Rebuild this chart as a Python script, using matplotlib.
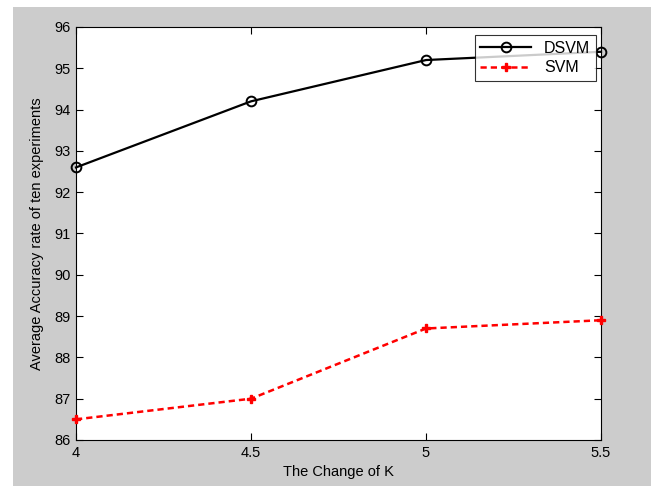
import matplotlib
matplotlib.use("Agg")
import matplotlib.pyplot as plt
from matplotlib.patches import Rectangle

k_values = [4, 4.5, 5, 5.5]
dsvm = [92.6, 94.2, 95.2, 95.4]
svm = [86.5, 87.0, 88.7, 88.9]
xticks = [4, 4.5, 5, 5.5]
xtick_labels = ["4", "4.5", "5", "5.5"]
yticks = list(range(86, 97))

plt.rcParams['font.family'] = ['Liberation Sans', 'DejaVu Sans']

fig = plt.figure(figsize=(6.51, 4.86), dpi=100, facecolor='white')
fig.patches.append(Rectangle((13/651, 0), 1 - 13/651, 1 - 7/486, transform=fig.transFigure,
                             facecolor='#cccccc', edgecolor='none', zorder=-10))
ax = fig.add_axes([76/651, 46/486, (601-76)/651, (440-27)/486])
ax.set_facecolor('white')

ax.plot(k_values, dsvm, color='black', linewidth=1.6, marker='o', markersize=7,
        markerfacecolor='none', markeredgecolor='black', markeredgewidth=1.4,
        label='DSVM', clip_on=False, zorder=5)
ax.plot(k_values, svm, color='red', linewidth=1.8, linestyle='--', dashes=(2.5, 1.6), marker='P',
        markersize=6, markerfacecolor='red', markeredgecolor='red',
        label='SVM', clip_on=False, zorder=5)

ax.set_xlim(4, 5.5)
ax.set_ylim(86, 96)
ax.set_xticks(xticks)
ax.set_xticklabels(xtick_labels)
ax.set_yticks(yticks)
ax.tick_params(direction='in', top=True, right=True, length=5, width=0.8,
               labelsize=10.5, colors='black', pad=4)
for s in ax.spines.values():
    s.set_color('black')
    s.set_linewidth(0.8)

ax.set_xlabel('The Change of K', fontsize=10.5, labelpad=4)
ax.set_ylabel('Average Accuracy rate of ten experiments', fontsize=10.5, labelpad=7)

leg = fig.legend(loc='upper right', bbox_to_anchor=(596/651, 1 - 35/486), fontsize=11.5,
                 frameon=True, fancybox=False, edgecolor='black', borderpad=0.35,
                 handlelength=3.2, labelspacing=0.3, borderaxespad=0)
leg.get_frame().set_linewidth(0.8)
leg.set_zorder(10)

fig.savefig('out.png', dpi=100, facecolor=fig.get_facecolor())
